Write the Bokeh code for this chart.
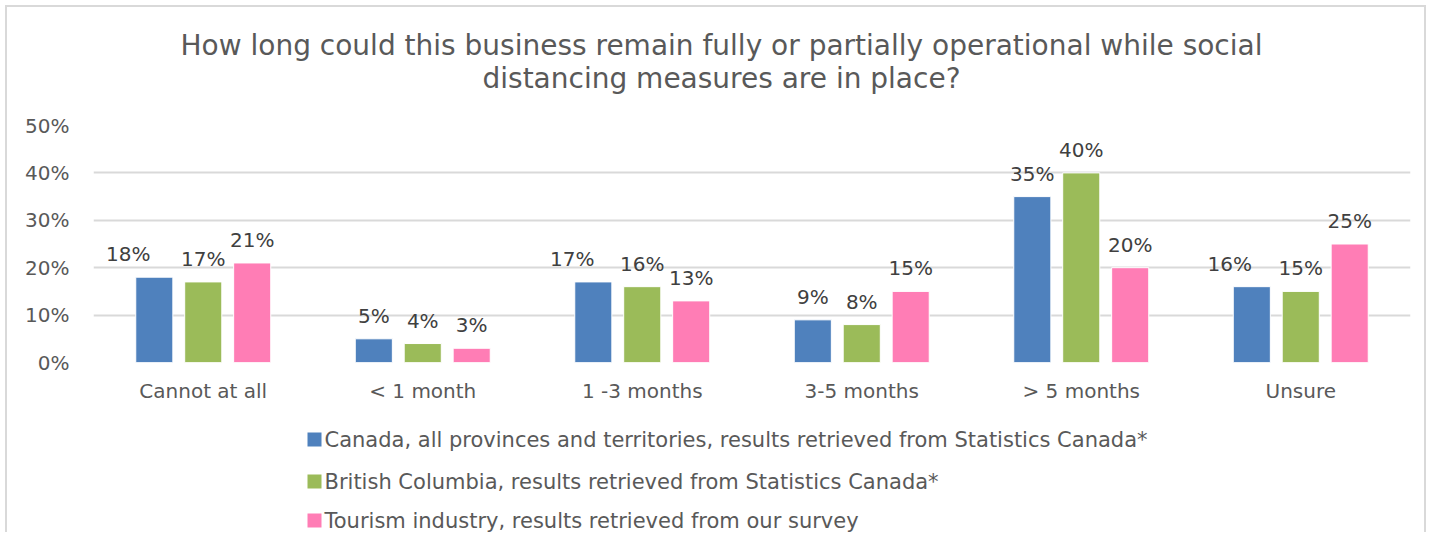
from bokeh.plotting import figure
from bokeh.models import (ColumnDataSource, Range1d, FactorRange, NumeralTickFormatter, FixedTicker)
from bokeh.layouts import column
from bokeh.transform import dodge
from bokeh.core.properties import value
from bokeh.embed import file_html
from bokeh.resources import INLINE

categories = ["Cannot at all", "< 1 month", "1 -3 months", "3-5 months", "> 5 months", "Unsure"]
canada = [0.18, 0.05, 0.17, 0.09, 0.35, 0.16]
bc = [0.17, 0.04, 0.16, 0.08, 0.40, 0.15]
tourism = [0.21, 0.03, 0.13, 0.15, 0.20, 0.25]
series_names = [
    "Canada, all provinces and territories, results retrieved from Statistics Canada*",
    "British Columbia, results retrieved from Statistics Canada*",
    "Tourism industry, results retrieved from our survey",
]
title_lines = [
    "How long could this business remain fully or partially operational while social",
    "distancing measures are in place?",
]
y_ticks = [0, 0.1, 0.2, 0.3, 0.4, 0.5]

colors = ["#4F81BD", "#9BBB59", "#FF7DB5"]
offsets = [-0.223, 0.0, 0.223]
# small horizontal nudges of the blue labels (layout only)
blue_label_shift = [-26, 0, -21, 0, 0, -22]

FONT = "DejaVu Sans"
TXT = "#595959"
W = 1431
FL, FR = 93, 21          # frame margins shared by all stacked figures


def blank(h):
    f = figure(width=W, height=h, x_range=Range1d(FL, W - FR), y_range=Range1d(0, h),
               output_backend="svg", toolbar_location=None,
               min_border_left=FL, min_border_right=FR,
               min_border_top=0, min_border_bottom=0)
    f.axis.visible = False
    f.grid.visible = False
    f.outline_line_color = None
    f.border_fill_color = None
    f.background_fill_color = None
    return f


# ---- title ----
TH = 105
tf = blank(TH)
tf.text(x=[721, 721], y=[TH - 45, TH - 78], text=title_lines,
        text_align="center", text_baseline="middle",
        text_font=value(FONT), text_font_size="28px", text_color=TXT)

# ---- chart ----
p = figure(width=W, height=300, x_range=FactorRange(*categories), y_range=Range1d(0, 0.5),
           output_backend="svg", toolbar_location=None,
           min_border_left=FL, min_border_right=FR, min_border_top=20, min_border_bottom=42)
p.outline_line_color = None
p.border_fill_color = None
p.background_fill_color = None

src = ColumnDataSource(dict(cats=categories, canada=canada, bc=bc, tourism=tourism,
                            canada_t=[f"{round(v*100)}%" for v in canada],
                            bc_t=[f"{round(v*100)}%" for v in bc],
                            tourism_t=[f"{round(v*100)}%" for v in tourism],
                            shift=blue_label_shift))

for key, col, off in zip(["canada", "bc", "tourism"], colors, offsets):
    p.vbar(x=dodge("cats", off, range=p.x_range), top=key, width=0.169, source=src,
           fill_color=col, line_color="white", line_width=1)
    p.text(x=dodge("cats", off, range=p.x_range), y=key, text=key + "_t", source=src,
           text_align="center", text_baseline="middle", y_offset=-23,
           x_offset="shift" if key == "canada" else 0,
           text_font=value(FONT), text_font_size="20px", text_color="#404040")

p.yaxis.ticker = FixedTicker(ticks=y_ticks)
p.yaxis.formatter = NumeralTickFormatter(format="0%")
for ax in (p.xaxis, p.yaxis):
    ax.axis_line_color = None
    ax.major_tick_line_color = None
    ax.minor_tick_line_color = None
    ax.major_tick_out = 0
    ax.major_tick_in = 0
    ax.major_label_text_font = FONT
    ax.major_label_text_font_size = "20px"
    ax.major_label_text_color = TXT
p.yaxis.major_label_standoff = 24
p.xaxis.major_label_standoff = 16
p.xgrid.grid_line_color = None
p.ygrid.grid_line_color = "#d9d9d9"
p.ygrid.grid_line_width = 2

# ---- legend ----
LH = 127
lf = blank(LH)
row_y = [LH - 34, LH - 76, LH - 115]
lsrc = ColumnDataSource(dict(name=series_names, color=colors, y=row_y,
                             x=[314] * 3, tx=[324] * 3))
lf.rect(x="x", y="y", width=14, height=14, fill_color="color", line_color=None, source=lsrc)
lf.text(x="tx", y="y", text="name", source=lsrc, text_align="left", text_baseline="middle",
        text_font=value(FONT), text_font_size="21px", text_color=TXT)

layout = column(tf, p, lf, spacing=0)
layout.styles = {
    "background": "white",
    "box-shadow": ("inset 5px 5px 0 0 #ffffff, inset -5px 0 0 0 #ffffff, "
                   "inset 7px 7px 0 0 #d9d9d9, inset -7px 0 0 0 #d9d9d9"),
}

open("out.html", "w").write(file_html(layout, INLINE))
